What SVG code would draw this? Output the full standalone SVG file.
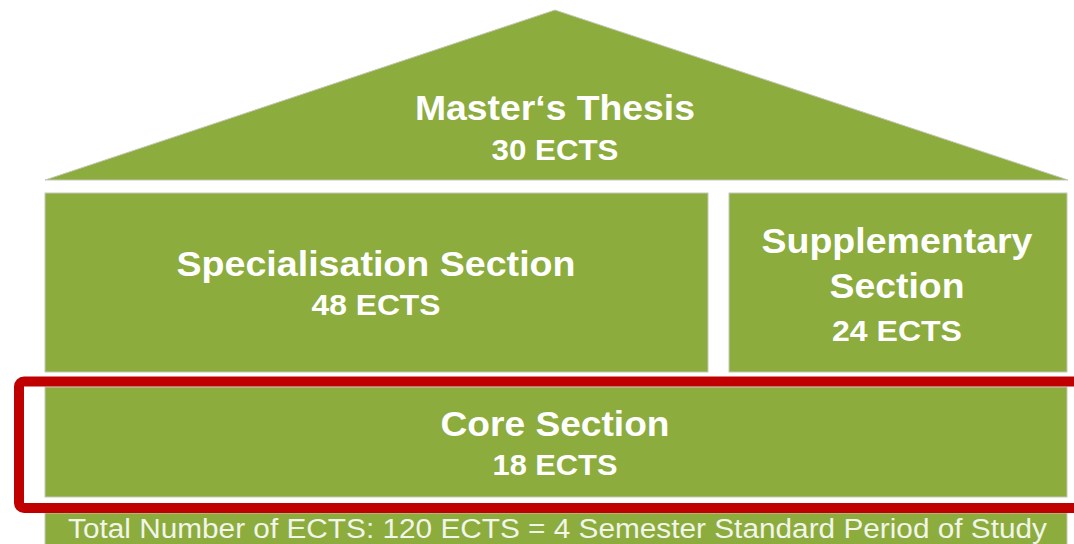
<svg xmlns="http://www.w3.org/2000/svg" width="1074" height="544" viewBox="0 0 1074 544">
  <style>
    .blk { fill: #8CAC3D; stroke: #c4c9b8; stroke-width: 1; }
    .t { font-family: "Liberation Sans", Arial, sans-serif; font-weight: bold; fill: #ffffff; text-anchor: middle; }
    .big { font-size: 35px; }
    .sm { font-size: 29px; }
    .foot { font-family: "Liberation Sans", Arial, sans-serif; font-size: 27px; fill: #f2f5ea; }
  </style>
  <rect x="0" y="0" width="1074" height="544" fill="#ffffff"/>
  <g id="thesis">
    <polygon class="blk" points="555,10 1068,180 45,180" stroke="none"/>
    <text class="t big" x="555" y="120" textLength="280" lengthAdjust="spacingAndGlyphs">Master‘s Thesis</text>
    <text class="t sm" x="555" y="160" textLength="127" lengthAdjust="spacingAndGlyphs">30 ECTS</text>
  </g>
  <g id="specialisation">
    <rect class="blk" x="45" y="193" width="663" height="179"/>
    <text class="t big" x="376" y="276" textLength="399" lengthAdjust="spacingAndGlyphs">Specialisation Section</text>
    <text class="t sm" x="376" y="315" textLength="129" lengthAdjust="spacingAndGlyphs">48 ECTS</text>
  </g>
  <g id="supplementary">
    <rect class="blk" x="729" y="193" width="338" height="179"/>
    <text class="t big" x="897" y="253" textLength="271" lengthAdjust="spacingAndGlyphs">Supplementary</text>
    <text class="t big" x="897" y="298" textLength="135" lengthAdjust="spacingAndGlyphs">Section</text>
    <text class="t sm" x="897" y="341" textLength="130" lengthAdjust="spacingAndGlyphs">24 ECTS</text>
  </g>
  <g id="core">
    <rect class="blk" x="45" y="387" width="1022" height="110"/>
    <text class="t big" x="555" y="436" textLength="229" lengthAdjust="spacingAndGlyphs">Core Section</text>
    <text class="t sm" x="555" y="475" textLength="125" lengthAdjust="spacingAndGlyphs">18 ECTS</text>
  </g>
  <g id="total">
    <rect class="blk" x="45" y="513" width="1022" height="40"/>
    <text class="foot" x="68" y="538" textLength="979" lengthAdjust="spacingAndGlyphs">Total Number of ECTS: 120 ECTS = 4 Semester Standard Period of Study</text>
  </g>
  <g id="highlight">
    <rect x="19" y="381.5" width="1080" height="126.5" rx="5" ry="5" fill="none" stroke="#C00000" stroke-width="10"/>
  </g>
</svg>
